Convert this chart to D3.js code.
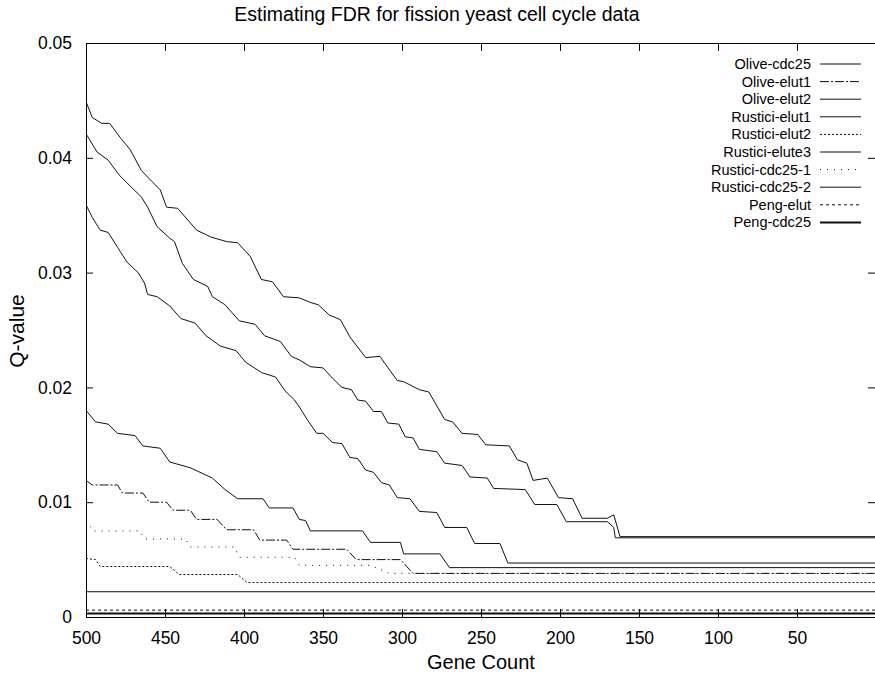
<!DOCTYPE html>
<html>
<head>
<meta charset="utf-8">
<script src="https://cdn.jsdelivr.net/npm/d3@7"></script>
<style>
  html, body { margin: 0; padding: 0; background: #fff; }
  svg { display: block; font-family: "Liberation Sans", Arial, Helvetica, sans-serif; }
</style>
</head>
<body>
<svg id="chart" width="875" height="674"></svg>
<script>
// Q-value curves, as [gene count, q-value] knots (stepwise descent toward a plateau)
const oliveCdc25 = [[500,0.0449],[496,0.0435],[490,0.0430],[485,0.0430],[478,0.0417],[472,0.0407],[465,0.0389],[458,0.0379],[453,0.0372],[449,0.0357],[442,0.0356],[430,0.0337],[421,0.0331],[411,0.0327],[404,0.0326],[396,0.0314],[389,0.0294],[382,0.0292],[375,0.0279],[365,0.0278],[358,0.0274],[353,0.0272],[346,0.0263],[339,0.0259],[333,0.0244],[323,0.0226],[314,0.0227],[303,0.0206],[299,0.0205],[289,0.0198],[283,0.0196],[273,0.0172],[268,0.0170],[262,0.0160],[252,0.0159],[247,0.0150],[232,0.0149],[227,0.0137],[221,0.0134],[217,0.0119],[208,0.0121],[201,0.0104],[192,0.0103],[186,0.0086],[170,0.0086],[166,0.0089],[162,0.0070],[0,0.0070]];
const oliveElut1 = [[500,0.0119],[496,0.0115],[480,0.0115],[477,0.0108],[464,0.0108],[460,0.0100],[449,0.0100],[445,0.0093],[434,0.0093],[430,0.0085],[417,0.0085],[411,0.0076],[394,0.0076],[390,0.0067],[373,0.0067],[369,0.0059],[335,0.0059],[329,0.0050],[301,0.0050],[293,0.0038],[0,0.0038]];
const oliveElut2 = [[500,0.0421],[493,0.0405],[486,0.0398],[479,0.0385],[471,0.0374],[465,0.0366],[461,0.0357],[455,0.0340],[447,0.0330],[444,0.0327],[439,0.0308],[432,0.0294],[423,0.0288],[420,0.0279],[412,0.0272],[403,0.0258],[393,0.0255],[387,0.0245],[377,0.0240],[370,0.0227],[365,0.0224],[358,0.0218],[350,0.0217],[344,0.0208],[338,0.0200],[332,0.0198],[328,0.0189],[323,0.0188],[318,0.0179],[313,0.0179],[309,0.0169],[302,0.0168],[298,0.0157],[293,0.0156],[289,0.0146],[278,0.0144],[273,0.0134],[262,0.0132],[257,0.0122],[246,0.0121],[242,0.0112],[222,0.0111],[216,0.0098],[202,0.0098],[196,0.0083],[170,0.0083],[166,0.0078],[165,0.0069],[0,0.0069]];
const rusticiElut1 = [[500,0.0359],[496,0.0348],[491,0.0337],[486,0.0335],[480,0.0322],[474,0.0309],[467,0.0300],[463,0.0291],[461,0.0281],[455,0.0279],[447,0.0271],[440,0.0260],[431,0.0256],[424,0.0245],[415,0.0236],[405,0.0232],[399,0.0222],[389,0.0213],[380,0.0209],[374,0.0197],[368,0.0189],[365,0.0183],[360,0.0172],[354,0.0160],[350,0.0160],[344,0.0152],[338,0.0151],[333,0.0139],[328,0.0138],[323,0.0128],[318,0.0126],[313,0.0117],[308,0.0115],[303,0.0104],[295,0.0103],[289,0.0092],[278,0.0091],[273,0.0078],[259,0.0078],[254,0.0064],[238,0.0064],[233,0.0047],[0,0.0047]];
const rusticiElut2 = [[500,0.0051],[494,0.0050],[491,0.0044],[447,0.0044],[441,0.0037],[404,0.0037],[398,0.0030],[0,0.0030]];
const rusticiElute3 = [[500,0.0180],[494,0.0170],[486,0.0168],[480,0.0160],[469,0.0158],[464,0.0149],[453,0.0147],[447,0.0135],[434,0.0130],[420,0.0121],[412,0.0111],[404,0.0103],[388,0.0103],[384,0.0095],[369,0.0095],[365,0.0085],[361,0.0084],[358,0.0075],[325,0.0075],[320,0.0065],[301,0.0065],[299,0.0055],[276,0.0055],[270,0.0043],[0,0.0043]];
const rusticiCdc25_1 = [[500,0.0082],[498,0.0082],[496,0.0075],[466,0.0075],[463,0.0068],[437,0.0068],[434,0.0061],[406,0.0061],[403,0.0052],[368,0.0052],[365,0.0045],[320,0.0045],[308,0.0038],[0,0.0038]];
const rusticiCdc25_2 = [[500,0.0022],[0,0.0022]];
const pengElut = [[500,0.0006],[0,0.0006]];
const pengCdc25 = [[500,0.0003],[0,0.0003]];

const seriesNames = ["Olive-cdc25","Olive-elut1","Olive-elut2","Rustici-elut1","Rustici-elut2","Rustici-elute3","Rustici-cdc25-1","Rustici-cdc25-2","Peng-elut","Peng-cdc25"];
const seriesData = [oliveCdc25, oliveElut1, oliveElut2, rusticiElut1, rusticiElut2, rusticiElute3, rusticiCdc25_1, rusticiCdc25_2, pengElut, pengCdc25];
const seriesDash = [null, "9,2,2,2", null, null, "2,2", null, "1,6", null, "3,3", null];
const seriesWidth = [1, 1, 1, 1, 1, 1, 1, 1, 1, 2];

const xTicks = [500, 450, 400, 350, 300, 250, 200, 150, 100, 50];
const yTicks = [0, 0.01, 0.02, 0.03, 0.04, 0.05];

const svg = d3.select("#chart");
const plotL = 86, plotR = 876, plotT = 43, plotB = 617;

const x = d3.scaleLinear().domain([500, 0]).range([plotL, plotR]);
const y = d3.scaleLinear().domain([0, 0.05]).range([plotB, plotT]);

svg.append("defs").append("clipPath").attr("id", "plot")
  .append("rect").attr("x", plotL).attr("y", plotT).attr("width", plotR - plotL).attr("height", plotB - plotT);

// title and axis titles
svg.append("text").attr("x", 437).attr("y", 21).attr("text-anchor", "middle")
  .attr("font-size", 19.5).text("Estimating FDR for fission yeast cell cycle data");
svg.append("text").attr("x", 481).attr("y", 669).attr("text-anchor", "middle")
  .attr("font-size", 20).text("Gene Count");
svg.append("text").attr("transform", "translate(24,331) rotate(-90)").attr("text-anchor", "middle")
  .attr("font-size", 21).text("Q-value");

// axes: labels outside, ticks drawn inward on all four sides
const fmtY = v => v === 0 ? "0" : d3.format(".2f")(v);
const gB = svg.append("g").attr("transform", `translate(0,${plotB})`)
  .call(d3.axisBottom(x).tickValues(xTicks).tickSize(-8).tickPadding(15).tickFormat(d3.format("d")));
const gT = svg.append("g").attr("transform", `translate(0,${plotT})`)
  .call(d3.axisTop(x).tickValues(xTicks).tickSize(-8).tickFormat(""));
const gL = svg.append("g").attr("transform", `translate(${plotL},0)`)
  .call(d3.axisLeft(y).tickValues(yTicks).tickSize(-7).tickPadding(14).tickFormat(fmtY));
const gR = svg.append("g").attr("transform", `translate(${plotR - 1},0)`)
  .call(d3.axisRight(y).tickValues(yTicks).tickSize(-7).tickFormat(""));
[gB, gT, gL, gR].forEach(g => {
  g.select(".domain").remove();
  g.selectAll(".tick line").attr("stroke", "#000");
  g.selectAll(".tick text").attr("font-size", 17.5).attr("fill", "#000")
    .attr("font-family", "'Liberation Sans', Arial, sans-serif");
});

// plot frame
svg.append("rect").attr("x", plotL + 0.5).attr("y", plotT + 0.5)
  .attr("width", plotR - plotL).attr("height", plotB - plotT)
  .attr("fill", "none").attr("stroke", "#000");

const line = d3.line().x(d => x(d[0])).y(d => y(d[1]));

svg.append("g").attr("clip-path", "url(#plot)")
  .selectAll("path").data(seriesData).join("path")
  .attr("d", line)
  .attr("fill", "none")
  .attr("stroke", "#111")
  .attr("stroke-width", (d, i) => seriesWidth[i])
  .attr("stroke-dasharray", (d, i) => seriesDash[i]);

// legend
const legend = svg.append("g");
seriesNames.forEach((name, i) => {
  const ly = 64 + i * 17.6;
  legend.append("text").attr("x", 811).attr("y", ly + 5).attr("text-anchor", "end")
    .attr("font-size", 14.5).text(name);
  legend.append("line").attr("x1", 820).attr("x2", 861).attr("y1", ly).attr("y2", ly)
    .attr("stroke", "#111").attr("stroke-width", seriesWidth[i])
    .attr("stroke-dasharray", seriesDash[i]);
});
</script>
</body>
</html>
